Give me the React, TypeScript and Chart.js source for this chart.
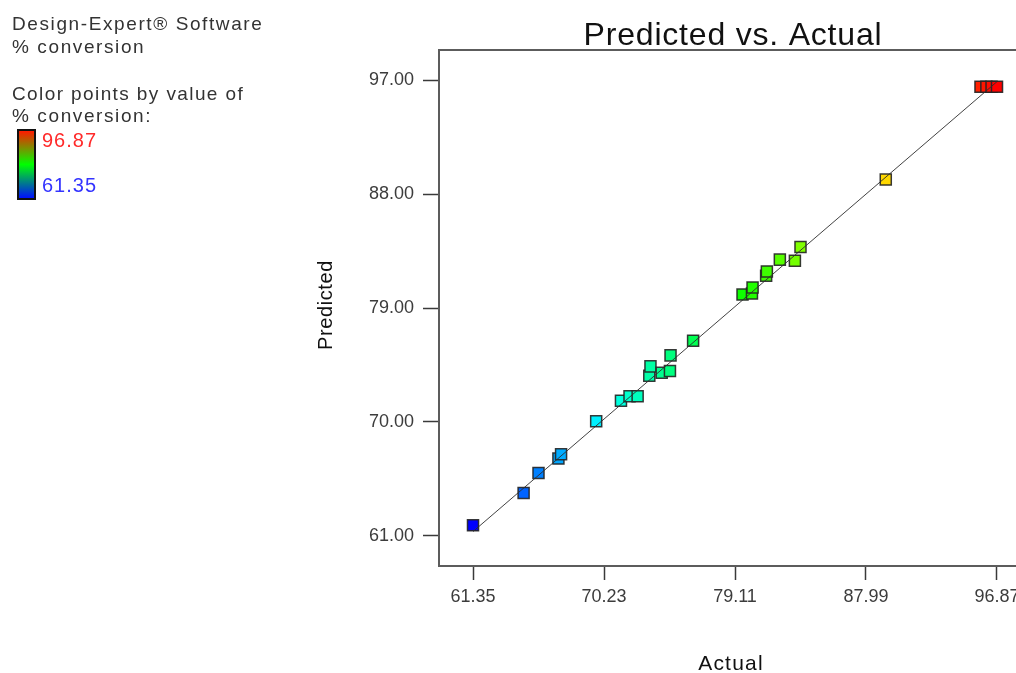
import { useEffect, useRef } from "react";
import { Chart, registerables } from "chart.js";

Chart.register(...registerables);

// Observed (actual) vs. model-predicted % conversion for each run
const actual = [
  61.35, 64.78, 65.79, 67.14, 67.32, 69.7, 71.38, 71.96, 72.51, 73.3, 73.38, 74.14, 74.7, 74.74,
  76.27, 79.62, 80.26, 80.3, 81.22, 81.27, 82.15, 83.17, 83.55, 89.33, 95.75, 96.15, 96.5, 96.87,
];
const predicted = [
  61.84, 64.4, 65.98, 67.11, 67.45, 70.05, 71.68, 72.04, 72.04, 73.65, 74.39, 73.88, 74.02, 75.26,
  76.42, 80.06, 80.14, 80.62, 81.55, 81.89, 82.82, 82.73, 83.81, 89.14, 96.47, 96.47, 96.47, 96.47,
];

// Response range used for the colour scale and the y = x reference line
const responseMin = 61.35;
const responseMax = 96.87;

// Axis ticks and limits
const xTicks = [61.35, 70.23, 79.11, 87.99, 96.87];
const yTicks = [61, 70, 79, 88, 97];
const xLimits = [59.045, 99.175];
const yLimits = [58.63, 99.37];

const FONT = '"Liberation Sans", Arial, Helvetica, sans-serif';

// blue -> cyan -> green -> yellow -> red by response value
function colorFor(v: number): string {
  const t = Math.min(1, Math.max(0, (v - responseMin) / (responseMax - responseMin)));
  const hue = 240 * (1 - t);
  return `hsl(${hue.toFixed(1)}, 100%, 50%)`;
}

const framePlugin = {
  id: "frameAndTitles",
  beforeDatasetsDraw(chart: any) {
    const { ctx, chartArea: a } = chart;
    ctx.save();
    ctx.strokeStyle = "#5c5c5c";
    ctx.lineWidth = 2;
    ctx.strokeRect(a.left, a.top, a.right - a.left, a.bottom - a.top);
    ctx.restore();
  },
  afterDraw(chart: any) {
    const { ctx, chartArea: a } = chart;
    const cx = (a.left + a.right) / 2 - 2;
    ctx.save();
    ctx.fillStyle = "#111111";
    ctx.textAlign = "center";
    ctx.textBaseline = "alphabetic";
    ctx.font = `32px ${FONT}`;
    (ctx as any).letterSpacing = "0.8px";
    ctx.fillText("Predicted vs. Actual", cx, a.top - 5);

    ctx.font = `21px ${FONT}`;
    (ctx as any).letterSpacing = "1.2px";
    ctx.fillText("Actual", cx - 2, 670);

    ctx.translate(326, (a.top + a.bottom) / 2 - 3);
    ctx.rotate(-Math.PI / 2);
    ctx.textBaseline = "middle";
    ctx.font = `20px ${FONT}`;
    (ctx as any).letterSpacing = "0.6px";
    ctx.fillText("Predicted", 0, 0);
    ctx.restore();
  },
};

export default function App() {
  const canvasRef = useRef<HTMLCanvasElement | null>(null);

  useEffect(() => {
    const canvas = canvasRef.current;
    if (!canvas) return;

    const points = actual.map((x, i) => ({ x, y: predicted[i] }));
    const colors = actual.map((v) => colorFor(v));

    const chart = new Chart(canvas, {
      type: "scatter",
      data: {
        datasets: [
          {
            type: "line",
            label: "y = x",
            data: [
              { x: responseMin, y: responseMin },
              { x: responseMax, y: responseMax },
            ],
            borderColor: "rgba(45,45,45,0.9)",
            borderWidth: 1,
            pointRadius: 0,
            fill: false,
            order: 0,
          } as any,
          {
            label: "% conversion",
            data: points,
            pointStyle: "rect",
            pointRadius: 7.8,
            pointHoverRadius: 7.8,
            pointBackgroundColor: colors,
            pointBorderColor: "rgba(35,35,35,0.9)",
            pointBorderWidth: 1.5,
            order: 1,
          },
        ],
      },
      options: {
        responsive: false,
        animation: false,
        devicePixelRatio: 1,
        layout: { padding: { left: 0, top: 50, right: 29, bottom: 0 } },
        plugins: {
          legend: { display: false },
          title: { display: false },
          tooltip: { enabled: false },
        },
        scales: {
          x: {
            type: "linear",
            position: "bottom",
            min: xLimits[0],
            max: xLimits[1],
            afterBuildTicks: (scale: any) => {
              scale.ticks = xTicks.map((value) => ({ value }));
            },
            afterFit: (scale: any) => {
              scale.height = 107;
            },
            border: { display: false },
            grid: {
              drawOnChartArea: false,
              tickLength: 14,
              tickColor: "#3a3a3a",
              tickWidth: 1.5,
            },
            ticks: {
              padding: 6,
              color: "#3c3c3c",
              font: { family: FONT, size: 18 },
              maxRotation: 0,
              autoSkip: false,
              callback: (v: any) => Number(v).toFixed(2),
            },
          },
          y: {
            type: "linear",
            position: "left",
            min: yLimits[0],
            max: yLimits[1],
            afterBuildTicks: (scale: any) => {
              scale.ticks = yTicks.map((value) => ({ value }));
            },
            afterFit: (scale: any) => {
              scale.width = 439;
            },
            border: { display: false },
            grid: {
              drawOnChartArea: false,
              tickLength: 16,
              tickColor: "#3a3a3a",
              tickWidth: 1.5,
            },
            ticks: {
              padding: 9,
              color: "#3c3c3c",
              font: { family: FONT, size: 18 },
              autoSkip: false,
              callback: (v: any) => Number(v).toFixed(2),
            },
          },
        },
      },
      plugins: [framePlugin],
    });

    return () => chart.destroy();
  }, []);

  const legendText: React.CSSProperties = {
    position: "absolute",
    left: 12,
    margin: 0,
    fontFamily: FONT,
    fontSize: 19,
    letterSpacing: "1.6px",
    color: "#333333",
    whiteSpace: "nowrap",
    lineHeight: "22px",
  };

  return (
    <div
      style={{
        position: "fixed",
        left: 0,
        top: 0,
        width: 1016,
        height: 673,
        overflow: "hidden",
        background: "#ffffff",
      }}
    >
      <canvas
        ref={canvasRef}
        width={1060}
        height={673}
        style={{ position: "absolute", left: 0, top: 0, width: 1060, height: 673 }}
      />
      <div style={{ ...legendText, top: 13 }}>Design-Expert® Software</div>
      <div style={{ ...legendText, top: 36 }}>% conversion</div>
      <div style={{ ...legendText, top: 83, letterSpacing: "1.4px" }}>Color points by value of</div>
      <div style={{ ...legendText, top: 105 }}>% conversion:</div>
      <div
        style={{
          position: "absolute",
          left: 17,
          top: 129,
          width: 15,
          height: 67,
          border: "2px solid #111",
          background: "linear-gradient(to bottom, #ff1a00 0%, #00ff00 50%, #0010ff 100%)",
        }}
      />
      <div
        style={{
          position: "absolute",
          left: 42,
          top: 129,
          fontFamily: FONT,
          fontSize: 20,
          letterSpacing: "1px",
          color: "#ff2a2a",
          lineHeight: "22px",
        }}
      >
        {responseMax.toFixed(2)}
      </div>
      <div
        style={{
          position: "absolute",
          left: 42,
          top: 174,
          fontFamily: FONT,
          fontSize: 20,
          letterSpacing: "1px",
          color: "#3434ff",
          lineHeight: "22px",
        }}
      >
        {responseMin.toFixed(2)}
      </div>
    </div>
  );
}
